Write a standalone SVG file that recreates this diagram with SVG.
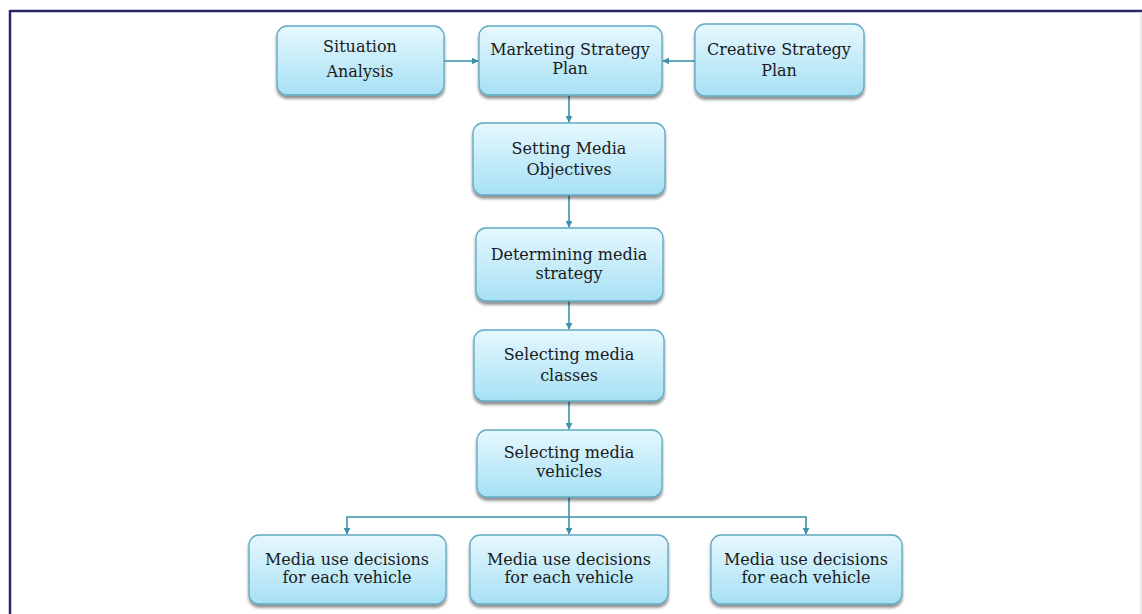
<svg xmlns="http://www.w3.org/2000/svg" width="1142" height="614" viewBox="0 0 1142 614">
  <defs>
    <linearGradient id="boxFill" x1="0" y1="0" x2="0" y2="1">
      <stop offset="0" stop-color="#e6f8fe"/>
      <stop offset="1" stop-color="#a6e0f4"/>
    </linearGradient>
    <filter id="shadow" x="-10%" y="-10%" width="120%" height="130%">
      <feGaussianBlur in="SourceAlpha" stdDeviation="1.5"/>
      <feOffset dx="0" dy="2.5" result="b"/>
      <feComponentTransfer><feFuncA type="linear" slope="0.45"/></feComponentTransfer>
      <feMerge><feMergeNode/><feMergeNode in="SourceGraphic"/></feMerge>
    </filter>
    <marker id="arrow" viewBox="0 0 10 10" refX="9" refY="5" markerWidth="7" markerHeight="7" markerUnits="userSpaceOnUse" orient="auto">
      <path d="M0,0 L10,5 L0,10 z" fill="#3a92ab"/>
    </marker>
  </defs>
  <style>
    .box { fill: url(#boxFill); stroke: #5fa9c2; stroke-width: 1.3; filter: url(#shadow); }
    .lbl { font-family: "DejaVu Serif", "Liberation Serif", serif; font-size: 16px; fill: #1a1a1a; text-anchor: middle; }
    .conn { fill: none; stroke: #3a92ab; stroke-width: 1.6; }
  </style>

  <rect width="1142" height="614" fill="#ffffff"/>
  <!-- frame -->
  <line x1="10" y1="11" x2="1142" y2="11" stroke="#27276a" stroke-width="2.5"/>
  <line x1="10" y1="10" x2="10" y2="614" stroke="#27276a" stroke-width="2.5"/>
  <line x1="1141" y1="12" x2="1141" y2="614" stroke="#d8d8d8" stroke-width="1"/>

  <g id="connectors">
    <line class="conn" x1="444" y1="61" x2="478" y2="61" marker-end="url(#arrow)"/>
    <line class="conn" x1="695" y1="61" x2="663" y2="61" marker-end="url(#arrow)"/>
    <line class="conn" x1="569" y1="95" x2="569" y2="122" marker-end="url(#arrow)"/>
    <line class="conn" x1="569" y1="195" x2="569" y2="227" marker-end="url(#arrow)"/>
    <line class="conn" x1="569" y1="301" x2="569" y2="329" marker-end="url(#arrow)"/>
    <line class="conn" x1="569" y1="401" x2="569" y2="429" marker-end="url(#arrow)"/>
    <line class="conn" x1="569" y1="497" x2="569" y2="534" marker-end="url(#arrow)"/>
    <polyline class="conn" points="569,517 347,517 347,534" marker-end="url(#arrow)"/>
    <polyline class="conn" points="569,517 806,517 806,534" marker-end="url(#arrow)"/>
  </g>

  <g id="situation-analysis">
    <rect class="box" x="277" y="26" width="167" height="69" rx="10"/>
    <text class="lbl" x="360" y="52">Situation</text>
    <text class="lbl" x="360" y="77">Analysis</text>
  </g>
  <g id="marketing-strategy-plan">
    <rect class="box" x="479" y="26" width="183" height="69" rx="10"/>
    <text class="lbl" x="570" y="55">Marketing Strategy</text>
    <text class="lbl" x="570" y="74">Plan</text>
  </g>
  <g id="creative-strategy-plan">
    <rect class="box" x="695" y="24" width="169" height="72" rx="10"/>
    <text class="lbl" x="779" y="55">Creative Strategy</text>
    <text class="lbl" x="779" y="76">Plan</text>
  </g>
  <g id="setting-media-objectives">
    <rect class="box" x="473" y="123" width="192" height="72" rx="10"/>
    <text class="lbl" x="569" y="154">Setting Media</text>
    <text class="lbl" x="569" y="175">Objectives</text>
  </g>
  <g id="determining-media-strategy">
    <rect class="box" x="476" y="228" width="187" height="73" rx="10"/>
    <text class="lbl" x="569" y="260">Determining media</text>
    <text class="lbl" x="569" y="279">strategy</text>
  </g>
  <g id="selecting-media-classes">
    <rect class="box" x="474" y="330" width="190" height="71" rx="10"/>
    <text class="lbl" x="569" y="360">Selecting media</text>
    <text class="lbl" x="569" y="381">classes</text>
  </g>
  <g id="selecting-media-vehicles">
    <rect class="box" x="477" y="430" width="185" height="67" rx="10"/>
    <text class="lbl" x="569" y="458">Selecting media</text>
    <text class="lbl" x="569" y="477">vehicles</text>
  </g>
  <g id="media-use-left">
    <rect class="box" x="249" y="535" width="197" height="69" rx="10"/>
    <text class="lbl" x="347" y="565">Media use decisions</text>
    <text class="lbl" x="347" y="583">for each vehicle</text>
  </g>
  <g id="media-use-center">
    <rect class="box" x="470" y="535" width="198" height="69" rx="10"/>
    <text class="lbl" x="569" y="565">Media use decisions</text>
    <text class="lbl" x="569" y="583">for each vehicle</text>
  </g>
  <g id="media-use-right">
    <rect class="box" x="711" y="535" width="191" height="69" rx="10"/>
    <text class="lbl" x="806" y="565">Media use decisions</text>
    <text class="lbl" x="806" y="583">for each vehicle</text>
  </g>
</svg>
